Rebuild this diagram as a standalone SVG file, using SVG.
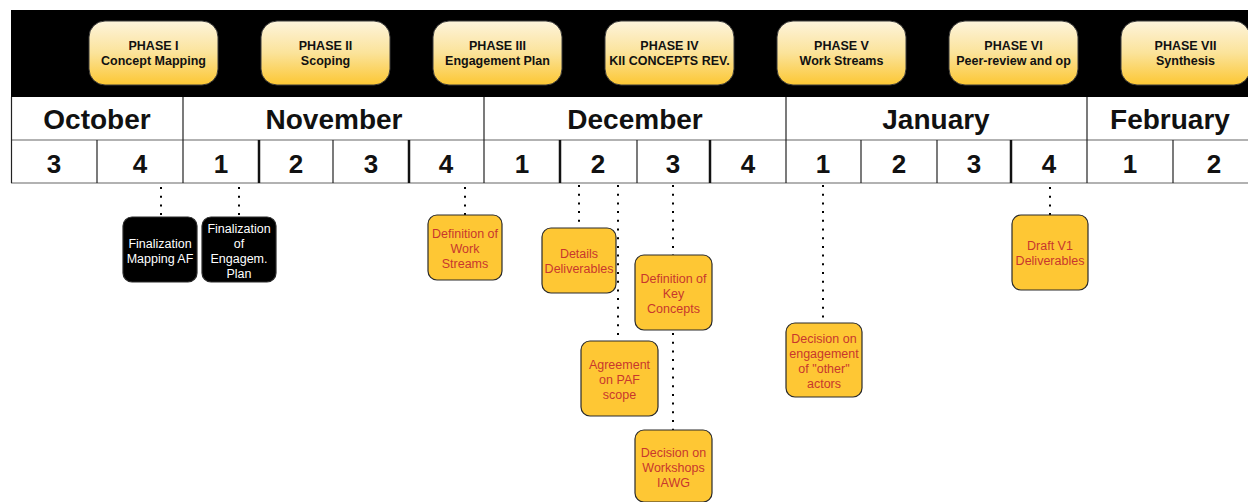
<svg xmlns="http://www.w3.org/2000/svg" width="1248" height="502" viewBox="0 0 1248 502">
<defs>
<linearGradient id="pg" x1="0" y1="0" x2="0" y2="1">
<stop offset="0" stop-color="#fdf4dc"/>
<stop offset="0.5" stop-color="#fbe39a"/>
<stop offset="1" stop-color="#fcc733"/>
</linearGradient>
<style>
.phase rect{fill:url(#pg);stroke:#3a3a3a;stroke-width:1}
.phase text{font-family:"Liberation Sans",Arial,sans-serif;font-weight:bold;font-size:12.5px;fill:#111;text-anchor:middle}
.month{font-family:"Liberation Sans",Arial,sans-serif;font-weight:bold;font-size:28px;fill:#111;text-anchor:middle}
.week{font-family:"Liberation Sans",Arial,sans-serif;font-weight:bold;font-size:26px;fill:#111;text-anchor:middle}
.hl{stroke:#999;stroke-width:1.5}
.vl{stroke:#222;stroke-width:1.2}
.vt{stroke:#111;stroke-width:2.5}
.ms rect{fill:#fec734;stroke:#2a2a2a;stroke-width:1.2}
.ms text{font-family:"Liberation Sans",Arial,sans-serif;font-size:12.5px;fill:#c8372d;text-anchor:middle}
.msb rect{fill:#000;stroke:#2a2a2a;stroke-width:1.2}
.msb text{font-family:"Liberation Sans",Arial,sans-serif;font-size:12.5px;fill:#fff;text-anchor:middle}
.dot{stroke:#000;stroke-width:2;stroke-dasharray:2 6.7;fill:none}
</style>
</defs>
<rect x="0" y="0" width="1248" height="502" fill="#fff"/>
<rect x="11" y="10" width="1237" height="87" fill="#000"/>
<g id="table">
<rect x="11" y="97" width="1237" height="86" fill="#fff"/>
<line class="hl" x1="11" y1="140" x2="1248" y2="140"/>
<line class="hl" x1="11" y1="183" x2="1248" y2="183"/>
<line class="vl" x1="11.5" y1="97" x2="11.5" y2="183"/>
<line class="vl" x1="183" y1="97" x2="183" y2="183"/>
<line class="vl" x1="484" y1="97" x2="484" y2="183"/>
<line class="vl" x1="786" y1="97" x2="786" y2="183"/>
<line class="vl" x1="1087" y1="97" x2="1087" y2="183"/>
<line class="vl" x1="97" y1="140" x2="97" y2="183"/>
<line class="vt" x1="259" y1="140" x2="259" y2="183"/>
<line class="vl" x1="333" y1="140" x2="333" y2="183"/>
<line class="vt" x1="409" y1="140" x2="409" y2="183"/>
<line class="vt" x1="560" y1="140" x2="560" y2="183"/>
<line class="vl" x1="637" y1="140" x2="637" y2="183"/>
<line class="vt" x1="710" y1="140" x2="710" y2="183"/>
<line class="vl" x1="861" y1="140" x2="861" y2="183"/>
<line class="vl" x1="937" y1="140" x2="937" y2="183"/>
<line class="vt" x1="1011" y1="140" x2="1011" y2="183"/>
<line class="vl" x1="1173" y1="140" x2="1173" y2="183"/>
<text class="month" x="97" y="129">October</text>
<text class="month" x="334" y="129">November</text>
<text class="month" x="635" y="129">December</text>
<text class="month" x="936" y="129">January</text>
<text class="month" x="1170" y="129">February</text>
<text class="week" x="54" y="173">3</text>
<text class="week" x="140" y="173">4</text>
<text class="week" x="221" y="173">1</text>
<text class="week" x="296" y="173">2</text>
<text class="week" x="371" y="173">3</text>
<text class="week" x="446" y="173">4</text>
<text class="week" x="522" y="173">1</text>
<text class="week" x="598" y="173">2</text>
<text class="week" x="673" y="173">3</text>
<text class="week" x="748" y="173">4</text>
<text class="week" x="823" y="173">1</text>
<text class="week" x="899" y="173">2</text>
<text class="week" x="974" y="173">3</text>
<text class="week" x="1049" y="173">4</text>
<text class="week" x="1130" y="173">1</text>
<text class="week" x="1214" y="173">2</text>
</g>
<g id="phase1" class="phase"><rect x="89" y="21" width="129" height="64" rx="16"/><text x="153.5" y="50">PHASE I</text><text x="153.5" y="65">Concept Mapping</text></g>
<g id="phase2" class="phase"><rect x="261" y="21" width="129" height="64" rx="16"/><text x="325.5" y="50">PHASE II</text><text x="325.5" y="65">Scoping</text></g>
<g id="phase3" class="phase"><rect x="433" y="21" width="129" height="64" rx="16"/><text x="497.5" y="50">PHASE III</text><text x="497.5" y="65">Engagement Plan</text></g>
<g id="phase4" class="phase"><rect x="605" y="21" width="129" height="64" rx="16"/><text x="669.5" y="50">PHASE IV</text><text x="669.5" y="65">KII CONCEPTS REV.</text></g>
<g id="phase5" class="phase"><rect x="777" y="21" width="129" height="64" rx="16"/><text x="841.5" y="50">PHASE V</text><text x="841.5" y="65">Work Streams</text></g>
<g id="phase6" class="phase"><rect x="949" y="21" width="129" height="64" rx="16"/><text x="1013.5" y="50">PHASE VI</text><text x="1013.5" y="65">Peer-review and op</text></g>
<g id="phase7" class="phase"><rect x="1121" y="21" width="129" height="64" rx="16"/><text x="1185.5" y="50">PHASE VII</text><text x="1185.5" y="65">Synthesis</text></g>
<g id="connectors">
<line class="dot" x1="161" y1="187" x2="161" y2="217"/>
<line class="dot" x1="239" y1="187" x2="239" y2="217"/>
<line class="dot" x1="465" y1="187" x2="465" y2="215"/>
<line class="dot" x1="579" y1="185" x2="579" y2="228"/>
<line class="dot" x1="618" y1="185" x2="618" y2="341"/>
<line class="dot" x1="673" y1="185" x2="673" y2="255"/>
<line class="dot" x1="673" y1="333" x2="673" y2="430"/>
<line class="dot" x1="823" y1="185" x2="823" y2="323"/>
<line class="dot" x1="1050" y1="187" x2="1050" y2="215"/>
</g>
<g id="m1" class="msb"><rect x="123" y="217" width="74" height="65" rx="9"/><text x="160" y="248">Finalization</text><text x="160" y="263">Mapping AF</text></g>
<g id="m2" class="msb"><rect x="202" y="217" width="74" height="65" rx="9"/><text x="239" y="233">Finalization</text><text x="239" y="248">of</text><text x="239" y="263">Engagem.</text><text x="239" y="278">Plan</text></g>
<g id="m3" class="ms"><rect x="428" y="215" width="74" height="65" rx="9"/><text x="465" y="238">Definition of</text><text x="465" y="253">Work</text><text x="465" y="268">Streams</text></g>
<g id="m4" class="ms"><rect x="542" y="228" width="74" height="65" rx="9"/><text x="579" y="258">Details</text><text x="579" y="273">Deliverables</text></g>
<g id="m5" class="ms"><rect x="581" y="341" width="77" height="75" rx="9"/><text x="619.5" y="369">Agreement</text><text x="619.5" y="384">on PAF</text><text x="619.5" y="399">scope</text></g>
<g id="m6" class="ms"><rect x="635" y="255" width="77" height="75" rx="9"/><text x="673.5" y="283">Definition of</text><text x="673.5" y="298">Key</text><text x="673.5" y="313">Concepts</text></g>
<g id="m7" class="ms"><rect x="635" y="430" width="77" height="72" rx="9"/><text x="673.5" y="457">Decision on</text><text x="673.5" y="472">Workshops</text><text x="673.5" y="487">IAWG</text></g>
<g id="m8" class="ms"><rect x="786" y="323" width="76" height="74" rx="9"/><text x="824" y="343">Decision on</text><text x="824" y="358">engagement</text><text x="824" y="373">of "other"</text><text x="824" y="388">actors</text></g>
<g id="m9" class="ms"><rect x="1012" y="215" width="76" height="75" rx="9"/><text x="1050" y="250">Draft V1</text><text x="1050" y="265">Deliverables</text></g>
</svg>
